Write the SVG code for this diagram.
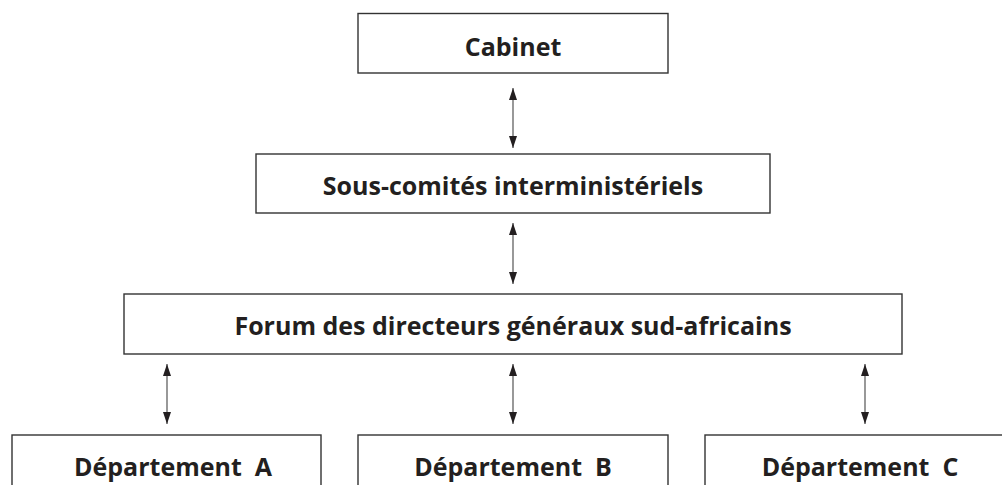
<svg xmlns="http://www.w3.org/2000/svg" width="1002" height="485" viewBox="0 0 1002 485">
<style>
.box{fill:#fff;stroke:#333;stroke-width:1.4}
.lbl{font-family:"Open Sans","Liberation Sans",sans-serif;font-weight:bold;font-size:25px;fill:#231f20;text-anchor:middle}
.con{stroke:#444;stroke-width:1.1;fill:none;marker-start:url(#ah);marker-end:url(#ah)}
</style>
<defs>
<marker id="ah" viewBox="0 0 12 8" refX="12" refY="4" markerWidth="12" markerHeight="8" markerUnits="userSpaceOnUse" orient="auto-start-reverse">
<path d="M0,0 L12,4 L0,8 z" fill="#231f20"/>
</marker>
</defs>
<g id="connectors">
<line class="con" x1="513" y1="88" x2="513" y2="148"/>
<line class="con" x1="513" y1="223" x2="513" y2="284"/>
<line class="con" x1="167" y1="364" x2="167" y2="424"/>
<line class="con" x1="513" y1="364" x2="513" y2="424"/>
<line class="con" x1="865" y1="364" x2="865" y2="424"/>
</g>
<g id="cabinet">
<rect class="box" x="358" y="13.5" width="310" height="59.5"/>
<text class="lbl" x="513" y="56">Cabinet</text>
</g>
<g id="souscomites">
<rect class="box" x="256" y="154" width="514" height="59"/>
<text class="lbl" x="513" y="195">Sous-comités interministériels</text>
</g>
<g id="forum">
<rect class="box" x="124" y="294" width="778" height="60"/>
<text class="lbl" x="513" y="335">Forum des directeurs généraux sud-africains</text>
</g>
<g id="deptA">
<rect class="box" x="12" y="435" width="309" height="70"/>
<text class="lbl" x="173" y="476" xml:space="preserve">Département  A</text>
</g>
<g id="deptB">
<rect class="box" x="358" y="435" width="310" height="70"/>
<text class="lbl" x="513" y="476" xml:space="preserve">Département  B</text>
</g>
<g id="deptC">
<rect class="box" x="705" y="435" width="310" height="70"/>
<text class="lbl" x="860" y="476" xml:space="preserve">Département  C</text>
</g>
</svg>
